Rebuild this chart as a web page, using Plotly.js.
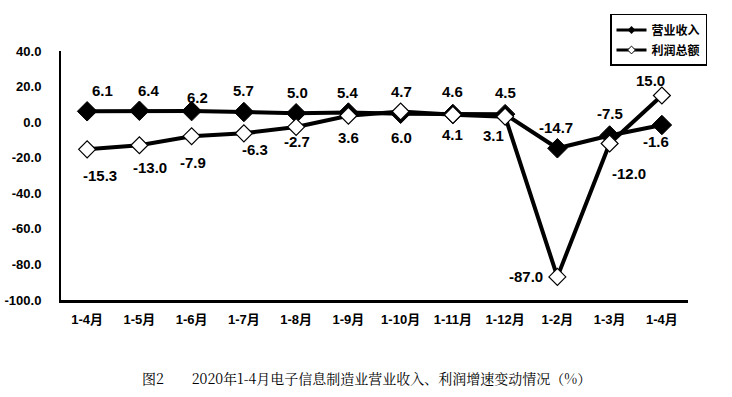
<!DOCTYPE html>
<html>
<head>
<meta charset="utf-8">
<script src="https://cdn.plot.ly/plotly-3.0.1.min.js"></script>
<style>
html,body{margin:0;padding:0;background:#fff;}
#chart{width:732px;height:397px;}
</style>
</head>
<body>
<div id="chart"></div>
<script>
var categories = ["1-4月","1-5月","1-6月","1-7月","1-8月","1-9月","1-10月","1-11月","1-12月","1-2月","1-3月","1-4月"];
var revenueName = "营业收入";
var profitName = "利润总额";
var revenue = [6.1, 6.4, 6.2, 5.7, 5.0, 5.4, 4.7, 4.6, 4.5, -14.7, -7.5, -1.6];
var profit = [-15.3, -13.0, -7.9, -6.3, -2.7, 3.6, 6.0, 4.1, 3.1, -87.0, -12.0, 15.0];
var yTicks = [40, 20, 0, -20, -40, -60, -80, -100];
var captionText = "图2　　2020年1-4月电子信息制造业营业收入、利润增速变动情况（%）";

// label offsets in pixels [dx, dy(up)]
var revLabelShift = [[15,21],[10,20],[6,14],[0,22],[1,21],[0,20],[1,22],[0,22],[0,22],[-1,21],[0,22],[-6,-17]];
var proLabelShift = [[13,-26],[11,-22],[1,-26],[11,-16],[1,-15],[0,-22],[1,-26],[0,-20],[-12,-19],[-31,0],[19,-30],[-11,15]];

var xIdx = categories.map(function(_, i){ return i; });

var traces = [
  {
    x: xIdx, y: revenue, name: revenueName, type: "scatter", mode: "lines+markers",
    line: {color: "#000", width: 4}, showlegend: false,
    marker: {symbol: "diamond", size: 15, color: "#000", line: {color: "#000", width: 1}}
  },
  {
    x: xIdx, y: profit, name: profitName, type: "scatter", mode: "lines+markers",
    line: {color: "#000", width: 4}, showlegend: false,
    marker: {symbol: "diamond", size: 13, color: "#fff", line: {color: "#000", width: 1.2}}
  },
  // legend entries (small markers as in the reference legend)
  {
    x: [null], y: [null], name: revenueName, type: "scatter", mode: "lines+markers",
    legendgroup: "a", line: {color: "#000", width: 3},
    marker: {symbol: "diamond", size: 6, color: "#000"}
  },
  {
    x: [null], y: [null], name: profitName, type: "scatter", mode: "lines+markers",
    legendgroup: "b", line: {color: "#000", width: 3},
    marker: {symbol: "diamond", size: 6, color: "#fff", line: {color: "#000", width: 1}}
  }
];

var labelFont = {family: "Liberation Sans, Arial, sans-serif", size: 15, color: "#000", weight: "bold"};
var annotations = [];
function fmt(v){ return v.toFixed(1); }
revenue.forEach(function(v, i){
  annotations.push({x: i, y: v, xref: "x", yref: "y", text: "<b>" + fmt(v) + "</b>", showarrow: false,
    xshift: revLabelShift[i][0], yshift: revLabelShift[i][1], font: labelFont});
});
profit.forEach(function(v, i){
  annotations.push({x: i, y: v, xref: "x", yref: "y", text: "<b>" + fmt(v) + "</b>", showarrow: false,
    xshift: proLabelShift[i][0], yshift: proLabelShift[i][1], font: labelFont});
});
annotations.push({
  x: 0.488, y: -0.313, xref: "paper", yref: "paper", xanchor: "center", yanchor: "middle",
  text: captionText, showarrow: false,
  font: {family: "Noto Serif CJK SC, Noto Sans CJK SC, sans-serif", size: 14, color: "#000"}
});

var layout = {
  width: 732, height: 397,
  margin: {l: 61, r: 44, t: 51, b: 97, pad: 0},
  paper_bgcolor: "#fff", plot_bgcolor: "#fff",
  showlegend: true,
  legend: {
    x: 0.8756, y: 1.1486, xanchor: "left", yanchor: "top",
    bordercolor: "#000", borderwidth: 1.5, bgcolor: "#fff",
    font: {family: "Noto Sans CJK SC, sans-serif", size: 12, color: "#000", weight: "bold"},
    itemwidth: 30, tracegroupgap: 1, entrywidth: 72
  },
  xaxis: {
    type: "linear", range: [-0.5, 11.5],
    tickmode: "array", tickvals: xIdx, ticktext: categories.map(function(c){ return "<b>" + c + "</b>"; }),
    showgrid: false, zeroline: false,
    showline: true, linecolor: "#000", linewidth: 2.5,
    ticks: "", ticklabelstandoff: 6,
    tickfont: {family: "Liberation Sans, Arial, Noto Sans CJK SC, sans-serif", size: 13, color: "#000"},
    fixedrange: true
  },
  yaxis: {
    range: [-100, 40],
    tickmode: "array", tickvals: yTicks, ticktext: yTicks.map(function(v){ return "<b>" + v.toFixed(1) + "</b>"; }),
    showgrid: false, zeroline: false,
    showline: true, linecolor: "#000", linewidth: 2,
    ticks: "", ticklabelstandoff: 15,
    tickfont: {family: "Liberation Sans, Arial, sans-serif", size: 13, color: "#000"},
    fixedrange: true
  },
  annotations: annotations
};

Plotly.newPlot("chart", traces, layout, {displayModeBar: false, staticPlot: true});
</script>
</body>
</html>
